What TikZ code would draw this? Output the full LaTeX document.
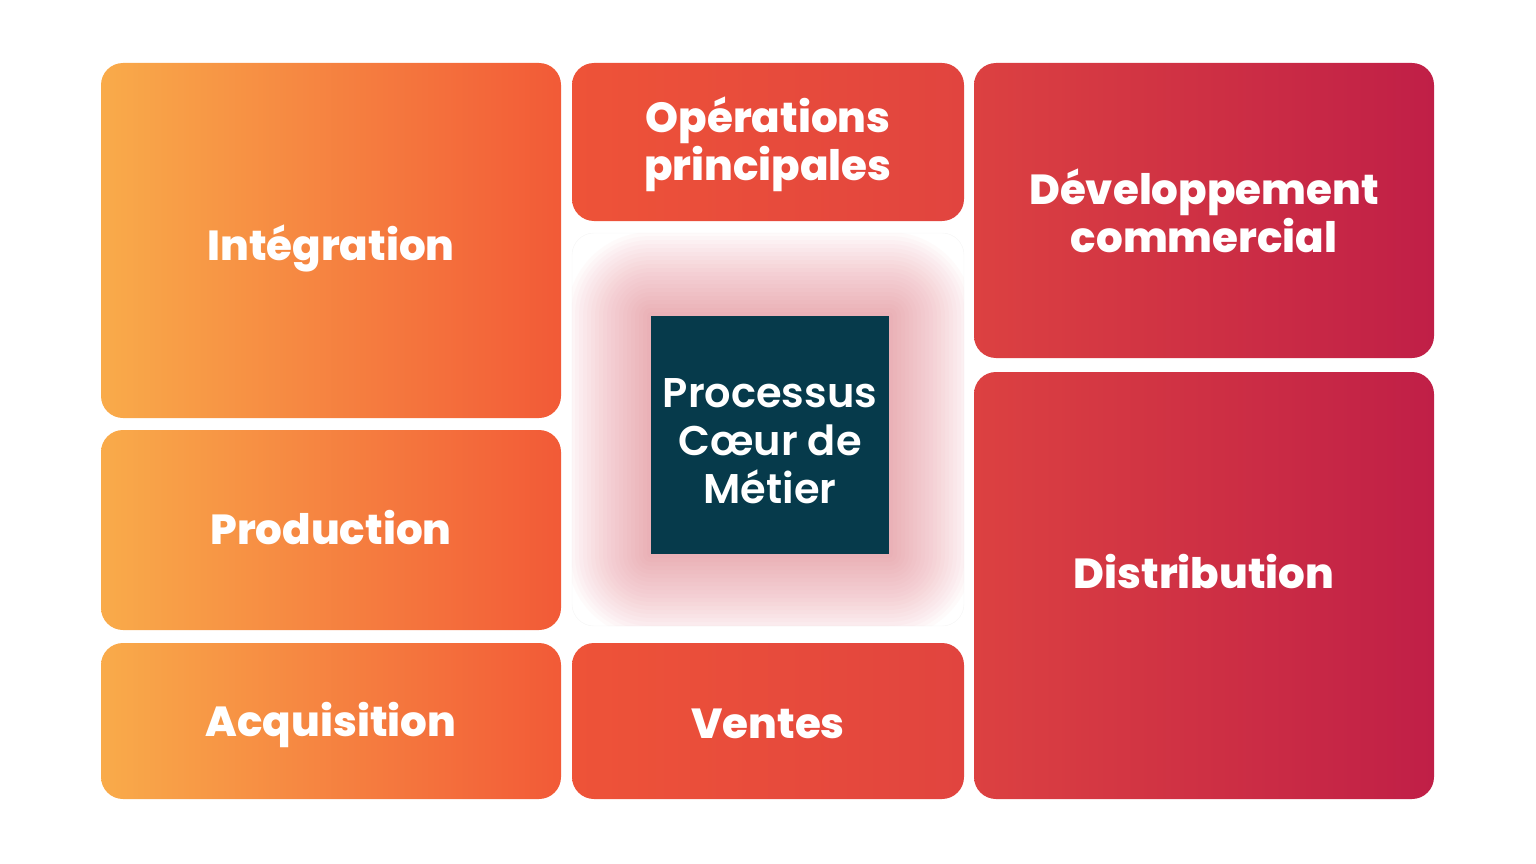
\documentclass[tikz,border=0pt]{standalone}
\usepackage{fontspec}
\setmainfont{Poppins}
\newfontfamily\heavyfont{Poppins ExtraBold}
\newfontfamily\midfont{Poppins SemiBold}
\usetikzlibrary{positioning,calc}

\definecolor{orangeA}{HTML}{F9AB4A}
\definecolor{orangeB}{HTML}{F25A37}
\definecolor{redA}{HTML}{EE5338}
\definecolor{redB}{HTML}{E1443F}
\definecolor{crimsonA}{HTML}{DC4141}
\definecolor{crimsonB}{HTML}{C01F47}
\definecolor{coreblue}{HTML}{063A4B}
\definecolor{glowc}{HTML}{E4707C}

\tikzset{
  tile/.style={rounded corners=22pt, inner sep=0pt},
  tilelabel/.style={text=white, align=center, inner sep=0pt,
    font=\heavyfont\fontsize{42}{48}\selectfont},
  panelbox/.style={rounded corners=22pt, draw=black!4, fill=white, inner sep=0pt},
  core/.style={fill=coreblue, inner sep=0pt,
    minimum width=238pt, minimum height=238pt},
  corelabel/.style={text=white, align=center, inner sep=0pt,
    font=\midfont\fontsize{41.5}{48}\selectfont},
}

\begin{document}
\begin{tikzpicture}[x=1pt, y=-1pt]
  \useasboundingbox (0,0) rectangle (1536,864);

  % left column
  \node[tile, left color=orangeA, right color=orangeB, minimum width=460pt, minimum height=355pt]
    (integ) at (331,240.5) {};
  \node[tile, left color=orangeA, right color=orangeB, minimum width=460pt, minimum height=200pt]
    (prod) at (331,530) {};
  \node[tile, left color=orangeA, right color=orangeB, minimum width=460pt, minimum height=156pt]
    (acq) at (331,721) {};
  \node[tilelabel, below=8pt of integ.center, anchor=center] (integlabel) {Intégration};
  \node[tilelabel, above=2pt of prod.center, anchor=center] (prodlabel) {Production};
  \node[tilelabel, below=4pt of acq.center, anchor=center] (acqlabel) {Acquisition};

  % middle column
  \node[tile, left color=redA, right color=redB, minimum width=392pt, minimum height=158pt]
    (ops) at (768,142) {};
  \node[tile, left color=redA, right color=redB, minimum width=392pt, minimum height=156pt]
    (ventes) at (768,721) {};
  \node[tilelabel, below=2pt of ops.center, anchor=center] (opslabel) {Opérations\\principales};
  \node[tilelabel, below=3pt of ventes.center, anchor=center] (venteslabel) {Ventes};

  % centre panel with a soft halo round the core
  \node[panelbox, minimum width=392pt, minimum height=393pt] (panel) at (768,429.5) {};
  \coordinate (halosw) at (651,554);
  \coordinate (halone) at (889,316);
  \begin{scope}
    \clip[rounded corners=22pt] (panel.south west) rectangle (panel.north east);
    \foreach \d in {4,8,...,84}
      \fill[glowc, opacity=0.032, rounded corners=\d pt]
        ($(halosw)+(-\d,\d)$) rectangle ($(halone)+(\d,-\d)$);
  \end{scope}
  \node[core] (coeur) at (770,435) {};
  \node[corelabel, below=6pt of coeur.center, anchor=center] (coeurlabel) {Processus\\Cœur de\\Métier};

  % right column
  \node[tile, left color=crimsonA, right color=crimsonB, minimum width=460pt, minimum height=295pt]
    (dev) at (1204,210.5) {};
  \node[tile, left color=crimsonA, right color=crimsonB, minimum width=460pt, minimum height=427pt]
    (dist) at (1204,585.5) {};
  \node[tilelabel, above=0pt of dev.center, anchor=center] (devlabel) {Développement\\commercial};
  \node[tilelabel, above=14pt of dist.center, anchor=center] (distlabel) {Distribution};
\end{tikzpicture}
\end{document}
